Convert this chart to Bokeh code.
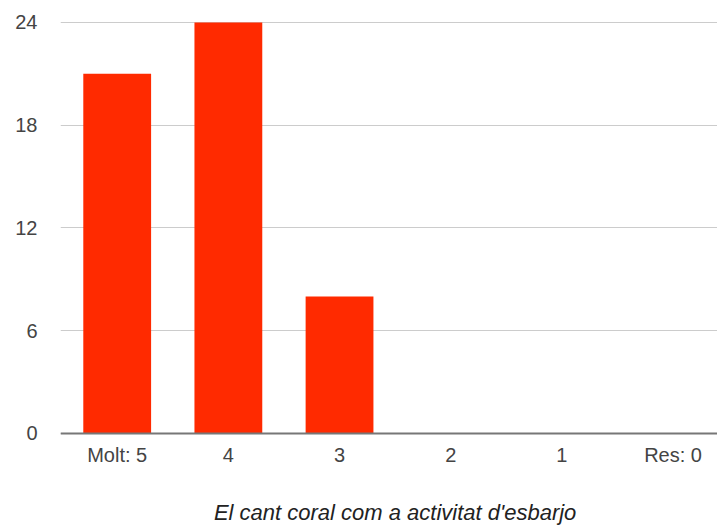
from bokeh.plotting import figure
from bokeh.models import Range1d, FixedTicker, Label
from bokeh.embed import file_html
from bokeh.resources import INLINE

categories = ["Molt: 5", "4", "3", "2", "1", "Res: 0"]
counts = [21, 24, 8, 0, 0, 0]
y_ticks = [0, 6, 12, 18, 24]
x_title = "El cant coral com a activitat d'esbarjo"

xs = list(range(len(categories)))

FONT = "Liberation Sans"

p = figure(width=717, height=526, output_backend="svg", toolbar_location=None,
           x_range=Range1d(-0.51, 5.40), y_range=Range1d(-5.43, 24.58),
           min_border_left=60, min_border_right=0, min_border_top=12, min_border_bottom=0)
p.outline_line_color = None
p.background_fill_color = "white"
p.border_fill_color = "white"

p.vbar(x=xs, top=counts, width=0.61, bottom=0, fill_color="#ff2a00", line_color=None)

# x axis, pinned at y = 0 inside the frame
p.xaxis.fixed_location = 0
p.xaxis.ticker = FixedTicker(ticks=xs)
p.xaxis.major_label_overrides = {i: c for i, c in zip(xs, categories)}
p.xaxis.major_tick_line_color = None
p.xaxis.minor_tick_line_color = None
p.xaxis.major_tick_out = 0
p.xaxis.major_tick_in = 0
p.xaxis.major_label_standoff = 11
p.xaxis.axis_line_color = "#777777"
p.xaxis.axis_line_width = 2
p.xaxis.major_label_text_font = FONT
p.xaxis.major_label_text_font_size = "20px"
p.xaxis.major_label_text_color = "#444444"

# y axis
p.yaxis.ticker = FixedTicker(ticks=y_ticks)
p.yaxis.axis_line_color = None
p.yaxis.major_tick_line_color = None
p.yaxis.minor_tick_line_color = None
p.yaxis.major_tick_out = 0
p.yaxis.major_label_standoff = 23
p.yaxis.major_label_text_font = FONT
p.yaxis.major_label_text_font_size = "20px"
p.yaxis.major_label_text_color = "#444444"

p.xgrid.grid_line_color = None
p.ygrid.ticker = FixedTicker(ticks=y_ticks)
p.ygrid.grid_line_color = "#cccccc"
p.ygrid.grid_line_width = 1

title = Label(x=sum(xs) / len(xs), y=-4.61, text=x_title, text_align="center",
              text_baseline="alphabetic", text_font=FONT, text_font_size="22px",
              text_font_style="italic", text_color="#222222")
p.add_layout(title)

open("out.html", "w").write(file_html(p, INLINE))
